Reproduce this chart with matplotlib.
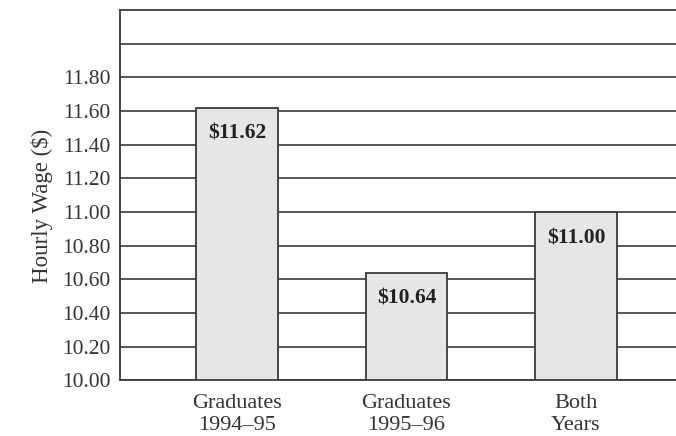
import matplotlib.pyplot as plt
import numpy as np

categories = ["Graduates\n1994\u201395", "Graduates\n1995\u201396", "Both\nYears"]
wages = [11.62, 10.64, 11.00]
bar_labels = ["$11.62", "$10.64", "$11.00"]
yticks = [10.00, 10.20, 10.40, 10.60, 10.80, 11.00, 11.20, 11.40, 11.60, 11.80]

plt.rcParams['font.family'] = ['Liberation Serif', 'DejaVu Serif']

fig = plt.figure(figsize=(6.76, 4.36), dpi=100)
ax = fig.add_axes([0.1775, 0.128, 0.8225, 0.849])

# horizontal rules behind the bars, incl. the unlabeled one near the top
for y in yticks + [12.00]:
    ax.axhline(y, color="#3a3a3a", lw=1.2, zorder=1)

x = np.arange(len(categories))
ax.bar(x, wages, width=0.48, bottom=0, color="#e6e6e6",
       edgecolor="#3a3a3a", lw=1.3, zorder=2)

for xi, v, lab in zip(x, wages, bar_labels):
    ax.text(xi, v - 0.155, lab, ha="center", va="center",
            fontsize=15.5, fontweight="bold", color="#222222", zorder=3)

ax.set_ylim(10.0, 12.2)
ax.set_xlim(-0.69, 2.59)
ax.set_yticks(yticks)
ax.set_yticklabels(["%.2f" % t for t in yticks], fontsize=15.5, color="#333333")
ax.set_xticks(x)
ax.set_xticklabels(categories, fontsize=16, color="#333333", linespacing=1.2)
ax.tick_params(axis="y", length=0, pad=7)
ax.tick_params(axis="x", length=0, pad=10)
ax.set_ylabel("Hourly Wage ($)", fontsize=16.5, color="#333333", labelpad=6)
ax.yaxis.label.set_y(0.47)

ax.spines["right"].set_visible(False)
for s in ["left", "bottom", "top"]:
    ax.spines[s].set_color("#3a3a3a")
    ax.spines[s].set_linewidth(1.3)

fig.savefig("out.png", dpi=100)
